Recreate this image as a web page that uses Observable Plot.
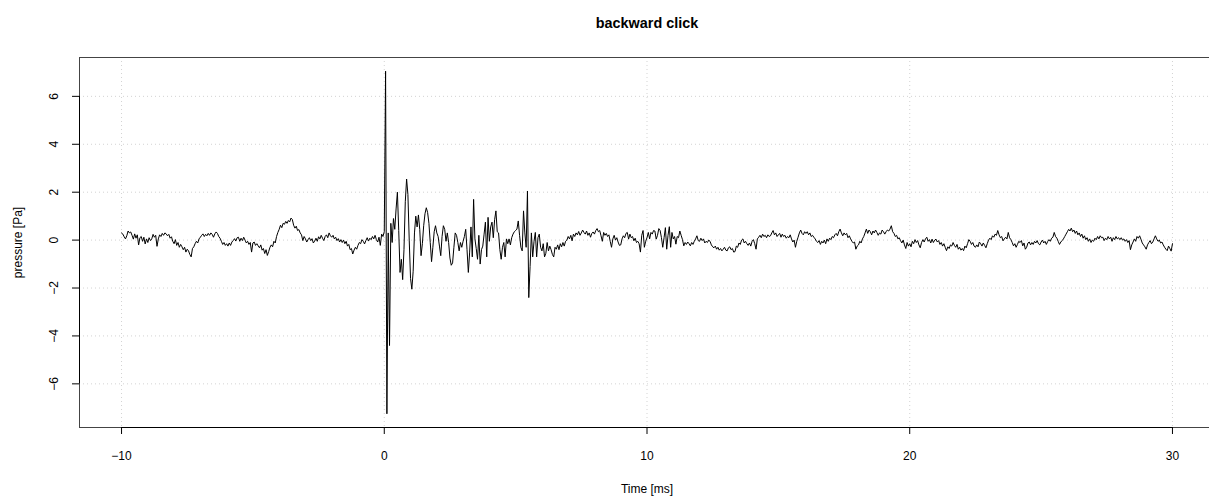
<!DOCTYPE html>
<html>
<head>
<meta charset="utf-8">
<script src="https://cdn.jsdelivr.net/npm/d3@7"></script>
<script src="https://cdn.jsdelivr.net/npm/@observablehq/plot@0.6"></script>
<style>
  html, body { margin: 0; padding: 0; background: #fff; overflow: hidden; }
</style>
</head>
<body>
<div id="chart"></div>
<script>
// Labels and axis ticks
const title = "backward click";
const xLabel = "Time [ms]";
const yLabel = "pressure [Pa]";
const xTicks = [-10, 0, 10, 20, 30];
const yTicks = [-6, -4, -2, 0, 2, 4, 6];

// Recording is sampled every 0.05 ms starting at -10 ms
const tStart = -10;
const tStep = 0.05;

// Pressure [Pa], one row per millisecond (20 samples), -10 ms .. -0.05 ms
const preClick = [
  0.30, 0.25, 0.14, 0.05, 0.18, 0.38, 0.30, 0.34, 0.20, 0.04, 0.26, 0.08, 0.22, -0.20, 0.10, 0.15, -0.05, 0.12, -0.16, 0.05,
  -0.10, 0.10, -0.02, 0.05, 0.24, 0.12, 0.20, -0.26, 0.05, 0.22, 0.15, 0.28, 0.20, 0.30, 0.26, 0.18, 0.24, 0.08, 0.14, -0.05,
  -0.15, 0.02, -0.22, -0.10, -0.30, -0.18, -0.28, -0.40, -0.30, -0.50, -0.38, -0.45, -0.60, -0.70, -0.35, -0.28, -0.15, -0.05, -0.12, 0.05,
  0.12, 0.20, 0.26, 0.15, 0.24, 0.18, 0.28, 0.20, 0.30, 0.24, 0.12, 0.26, 0.34, 0.28, 0.15, 0.08, -0.05, -0.18, -0.10, -0.22,
  -0.15, -0.25, -0.12, -0.22, -0.08, -0.02, 0.06, -0.04, 0.10, 0.12, -0.05, 0.08, -0.02, 0.12, 0.00, -0.12, -0.05, -0.18, -0.10, -0.50,
  -0.12, -0.08, -0.22, -0.15, -0.24, -0.32, -0.20, -0.42, -0.35, -0.56, -0.40, -0.64, -0.48, -0.30, -0.20, -0.28, -0.05, -0.12, 0.15, 0.32,
  0.45, 0.62, 0.52, 0.70, 0.66, 0.78, 0.70, 0.82, 0.76, 0.92, 0.86, 0.62, 0.50, 0.58, 0.40, 0.44, 0.30, 0.22, -0.02, 0.15,
  0.05, -0.08, 0.02, 0.10, -0.02, 0.06, -0.12, -0.04, 0.08, -0.05, 0.14, 0.05, 0.20, 0.08, -0.02, 0.15, 0.22, 0.10, 0.30, 0.18,
  0.12, 0.20, 0.05, 0.12, -0.02, 0.06, -0.08, 0.02, -0.10, 0.00, -0.15, -0.05, -0.25, -0.18, -0.40, -0.35, -0.58, -0.42, -0.30, -0.38,
  -0.22, -0.10, -0.15, 0.02, -0.05, -0.16, -0.02, 0.10, -0.04, 0.08, 0.02, 0.15, 0.05, 0.20, 0.02, -0.08, 0.12, -0.22, 0.25, 0.15
];

// 0 ms .. 6.95 ms: the click and its ringing
const clickBurst = [
  0.35, 7.05, -7.25, 0.30, -4.40, 0.70, -0.10, 0.90, 0.45, 1.30, 2.00, 0.40, -1.35, -0.80, -1.65, -0.40, 1.60, 2.55, 1.90, 0.00,
  -1.60, -2.05, -1.30, 0.30, 1.00, 0.55, 1.05, 0.45, -0.65, -0.15, 0.60, 1.10, 1.35, 1.15, 0.70, -0.10, -0.90, -0.30, 0.35, 0.60,
  0.30, 0.15, -0.25, -0.65, 0.15, 0.60, 0.45, -0.05, 0.30, -0.10, -0.75, -1.05, -0.95, -0.30, 0.30, 0.20, -0.10, -0.45, -0.10, -0.30,
  -0.05, 0.15, 0.45, -0.40, -1.35, -0.50, 0.55, -0.70, 1.70, 0.05, -0.35, -0.80, 0.20, -1.00, -0.40, -0.25, 0.25, 0.75, -0.70, 0.95,
  -0.05, 0.55, 0.75, 0.10, 0.85, 1.22, 0.35, 0.30, -0.40, -0.80, -0.30, -0.10, -0.70, 0.05, -0.15, 0.05, -0.20, 0.10, 0.25, 0.35,
  0.40, 0.46, 0.80, 0.20, -0.30, -0.45, 1.22, 0.30, -0.30, 2.05, -2.40, -1.10, 0.30, -0.70, -0.05, 0.32, -0.70, 0.10, 0.25, -0.30,
  -0.45, -0.15, -0.70, -0.55, -0.10, -0.45, -0.25, -0.40, -0.60, -0.70, -0.30, -0.38, -0.20, -0.40, -0.15, -0.28, -0.10, -0.25, -0.05, 0.00
];

// 7 ms .. 30 ms: background after the click
const decay = [
  0.15, 0.05, 0.20, -0.03, 0.25, 0.15, 0.30, 0.22, 0.36, 0.20, 0.30, 0.42, 0.32, 0.25, 0.38, 0.20, 0.30, 0.12, 0.28, 0.34,
  0.25, 0.40, 0.48, 0.35, 0.40, 0.18, -0.05, 0.32, 0.20, 0.28, 0.15, 0.22, -0.05, -0.30, 0.05, 0.20, 0.00, 0.10, -0.08, -0.22,
  -0.20, 0.05, 0.18, 0.10, 0.28, 0.32, 0.04, 0.25, 0.10, 0.15, -0.03, 0.08, -0.10, -0.05, -0.15, -0.50, 0.20, 0.40, -0.30, -0.05,
  0.10, 0.32, 0.05, 0.32, 0.25, 0.40, 0.38, 0.04, 0.20, 0.48, 0.40, 0.10, -0.30, 0.10, 0.52, -0.38, 0.20, 0.56, -0.30, 0.32,
  0.05, 0.15, -0.17, 0.15, 0.10, 0.38, 0.20, 0.02, -0.24, -0.10, -0.18, -0.08, -0.15, -0.24, -0.10, -0.18, -0.05, 0.05, 0.18, -0.02,
  -0.05, 0.08, -0.02, 0.05, -0.12, -0.05, -0.10, 0.00, -0.05, -0.20, -0.28, -0.32, -0.25, -0.38, -0.30, -0.42, -0.35, -0.45, -0.38, -0.30,
  -0.42, -0.45, -0.32, -0.28, -0.40, -0.35, -0.50, -0.48, -0.25, -0.30, -0.12, -0.18, 0.00, 0.05, -0.12, -0.05, -0.15, -0.22, -0.12, -0.25,
  -0.05, 0.02, -0.15, -0.38, 0.05, 0.12, 0.20, 0.10, 0.25, 0.15, 0.20, 0.10, 0.22, 0.15, 0.18, 0.30, 0.40, 0.22, 0.30, 0.15,
  0.22, 0.28, 0.12, 0.25, 0.15, 0.20, 0.08, 0.15, 0.10, 0.22, 0.05, -0.08, 0.00, -0.30, -0.05, 0.12, 0.30, 0.42, 0.28, 0.22,
  0.35, 0.28, 0.35, 0.22, 0.30, 0.15, 0.20, 0.12, 0.05, -0.05, -0.10, -0.02, -0.18, -0.05, -0.12, 0.00, -0.15, 0.05, -0.05, 0.08,
  0.02, 0.15, 0.10, 0.22, 0.28, 0.18, 0.35, 0.46, 0.30, 0.18, 0.30, 0.22, 0.28, 0.10, 0.18, 0.05, -0.05, -0.12, -0.08, -0.38,
  -0.25, -0.20, -0.05, -0.12, 0.05, 0.15, 0.30, 0.46, 0.28, 0.42, 0.35, 0.22, 0.38, 0.30, 0.42, 0.32, 0.20, 0.30, 0.25, 0.42,
  0.35, 0.25, 0.35, 0.42, 0.38, 0.46, 0.60, 0.35, 0.28, 0.15, 0.20, 0.05, 0.10, -0.02, -0.12, 0.00, -0.20, -0.35, -0.10, -0.25,
  -0.15, -0.28, -0.05, -0.15, 0.02, -0.10, -0.02, -0.20, -0.32, -0.10, 0.02, -0.08, 0.05, 0.12, -0.05, 0.02, -0.12, 0.04, -0.10, 0.00,
  0.04, -0.08, -0.02, -0.18, -0.10, -0.25, -0.15, -0.30, -0.44, -0.28, -0.35, -0.20, -0.25, -0.10, -0.22, -0.30, -0.18, -0.38, -0.30, -0.42,
  -0.35, -0.44, -0.25, -0.32, -0.15, 0.02, -0.05, -0.18, -0.10, -0.25, -0.30, -0.20, -0.28, -0.08, -0.15, -0.25, -0.12, -0.22, -0.32, -0.15,
  0.00, 0.08, 0.02, 0.18, 0.12, 0.25, 0.20, 0.40, 0.22, 0.10, 0.15, -0.03, 0.05, 0.12, 0.05, 0.32, 0.10, 0.02, -0.10, -0.24,
  -0.15, -0.30, -0.18, -0.05, -0.10, -0.02, -0.24, -0.12, -0.38, -0.30, -0.12, -0.08, -0.20, -0.10, -0.18, -0.05, -0.12, -0.02, -0.15, -0.20,
  -0.08, 0.00, -0.12, -0.05, -0.18, -0.06, 0.02, -0.05, 0.08, 0.12, 0.32, 0.15, 0.08, -0.05, -0.18, -0.08, -0.02, 0.05, 0.15, 0.25,
  0.35, 0.45, 0.38, 0.50, 0.35, 0.42, 0.28, 0.38, 0.22, 0.30, 0.15, 0.25, 0.08, 0.18, 0.02, 0.10, -0.05, 0.05, -0.10, 0.00,
  -0.05, 0.08, 0.02, 0.15, 0.05, 0.18, 0.10, 0.12, -0.02, 0.08, 0.02, 0.15, 0.05, 0.12, -0.05, 0.10, 0.02, 0.15, 0.05, 0.10,
  0.02, 0.10, 0.00, 0.05, -0.05, 0.02, -0.10, -0.02, -0.40, -0.20, -0.08, 0.05, -0.05, 0.15, 0.08, 0.18, 0.04, -0.12, -0.20, -0.28,
  -0.38, -0.20, -0.10, -0.02, -0.15, -0.08, 0.05, 0.18, 0.05, -0.05, 0.00, -0.12, -0.08, -0.20, -0.30, -0.38, -0.44, -0.25, -0.35, -0.46,
  -0.15
];

const pressure = [...preClick, ...clickBurst, ...decay];
const samples = pressure.map((p, i) => ({time: tStart + i * tStep, pressure: p}));

// Axis ranges padded by 4% on each side of the data extent
function padded([lo, hi]) {
  const pad = 0.04 * (hi - lo);
  return [lo - pad, hi + pad];
}
const xDomain = padded(d3.extent(samples, d => d.time));
const yDomain = padded(d3.extent(samples, d => d.pressure));

const fmt = v => (v < 0 ? "\u2212" + Math.abs(v) : String(v));
const font = "'Liberation Sans', Arial, Helvetica, sans-serif";
const dotted = {stroke: "#d3d3d3", strokeOpacity: 1, strokeDasharray: "1,3"};

const chart = Plot.plot({
  width: 1214,
  height: 500,
  marginLeft: 79,
  marginRight: 0,
  marginTop: 57,
  marginBottom: 73,
  x: {domain: xDomain},
  y: {domain: yDomain},
  style: {fontFamily: font, fontSize: "12px", color: "#000", background: "#fff", maxWidth: "none", overflow: "hidden"},
  marks: [
    Plot.gridX({ticks: xTicks, ...dotted}),
    Plot.gridY({ticks: yTicks, ...dotted}),
    Plot.frame({stroke: "#444"}),
    // axis lines run from the first to the last tick
    Plot.ruleY([yDomain[0]], {x1: d3.min(xTicks), x2: d3.max(xTicks), stroke: "#000"}),
    Plot.ruleX([xDomain[0]], {y1: d3.min(yTicks), y2: d3.max(yTicks), stroke: "#000"}),
    Plot.axisX({ticks: xTicks, tickSize: 7, tickPadding: 17, tickFormat: fmt, label: null, fontSize: 12}),
    Plot.axisY({ticks: yTicks, tickSize: 7, tickFormat: () => "", label: null}),
    Plot.text(yTicks, {x: xDomain[0], y: d => d, text: fmt, rotate: -90, dx: -25, textAnchor: "middle", lineAnchor: "middle", fontSize: 12}),
    Plot.line(samples, {x: "time", y: "pressure", stroke: "#000", strokeWidth: 1}),
    Plot.text([title], {frameAnchor: "top", dy: -34, lineAnchor: "middle", fontWeight: "bold", fontSize: 14.4}),
    Plot.text([xLabel], {frameAnchor: "bottom", dy: 62, lineAnchor: "middle", fontSize: 12}),
    Plot.text([yLabel], {frameAnchor: "left", dx: -61, rotate: -90, textAnchor: "middle", lineAnchor: "middle", fontSize: 12})
  ]
});

document.getElementById("chart").appendChild(chart);
</script>
</body>
</html>
